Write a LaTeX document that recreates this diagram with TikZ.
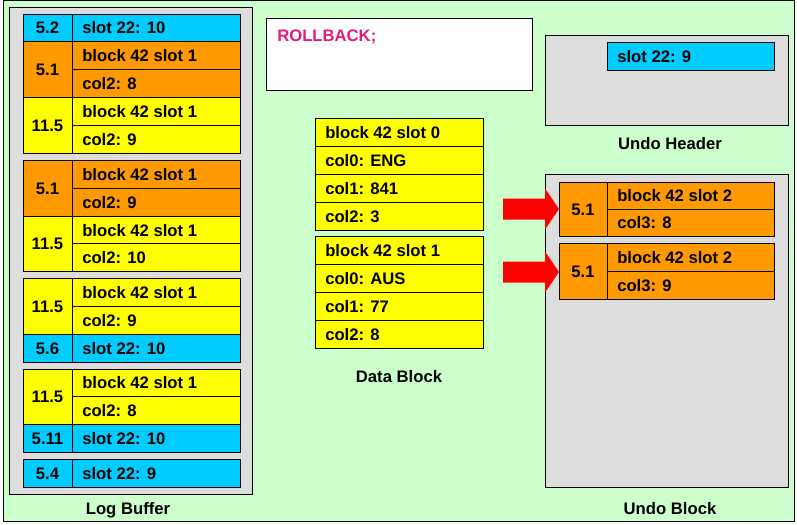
\documentclass[tikz,border=0pt]{standalone}
\usepackage{fontspec}
\setmainfont{Liberation Sans}
\usepackage{xcolor}
\usetikzlibrary{calc}
\definecolor{slotblue}{RGB}{0,204,255}
\definecolor{undoorange}{RGB}{255,153,0}
\definecolor{rowyellow}{RGB}{255,255,0}
\definecolor{panelgray}{RGB}{221,221,221}
\definecolor{sgagreen}{RGB}{204,255,204}
\definecolor{sqlpink}{RGB}{228,27,122}
\tikzstyle{cellline}=[draw=black, line width=0.75pt]
\tikzstyle{celltext}=[inner sep=0pt, text height=9pt, text depth=0pt, font=\fontsize{12.5}{15}\selectfont\bfseries]
% #1 name, #2 left, #3 top, #4 right, #5 bottom, #6 fill, #7 text
\newcommand{\txtcell}[7]{
	\filldraw[cellline, fill=#6] (#2,#3) rectangle (#4,#5);
	\node[celltext, anchor=west] (#1) at ({#2+10},{(#3+#5)/2}) {#7};
}
\newcommand{\numcell}[7]{
	\filldraw[cellline, fill=#6] (#2,#3) rectangle (#4,#5);
	\node[celltext] (#1) at ({(#2+#4)/2},{(#3+#5)/2}) {#7};
}
% #1 name of tip, #2 height of tip
\newcommand{\redarrow}[2]{
	\fill[red] (503,{#2-10.5}) -- (545,{#2-10.5}) -- (545,{#2-20.5}) -- (559,#2)
		-- (545,{#2+20.5}) -- (545,{#2+10.5}) -- (503,{#2+10.5}) -- cycle;
	\coordinate (#1) at (559,#2);
}
\begin{document}
\begin{tikzpicture}[x=0.75pt, y=-0.75pt]
	\useasboundingbox (0,0) rectangle (797,525);
	\filldraw[cellline, fill=sgagreen] (3,0.5) rectangle (794.5,521.5);
%
	\filldraw[cellline, fill=panelgray] (9.5,7.5) rectangle (252,494);
	\filldraw[cellline, fill=white] (266,18) rectangle (532,90);
	\filldraw[cellline, fill=panelgray] (545,35) rectangle (788,125);
	\filldraw[cellline, fill=panelgray] (545,174) rectangle (788,487);
%
	\node[celltext, anchor=west, text=sqlpink] (rollback) at (277,35) {ROLLBACK;};
%
	\numcell{lb1n}{23}{14}{72}{41.8}{slotblue}{5.2}
	\txtcell{lb1a}{72}{14}{240}{41.8}{slotblue}{slot 22: 10}
	\numcell{lb2n}{23}{41.8}{72}{97.4}{undoorange}{5.1}
	\txtcell{lb2a}{72}{41.8}{240}{69.6}{undoorange}{block 42 slot 1}
	\txtcell{lb2b}{72}{69.6}{240}{97.4}{undoorange}{col2: 8}
	\numcell{lb3n}{23}{97.4}{72}{153}{rowyellow}{11.5}
	\txtcell{lb3a}{72}{97.4}{240}{125.2}{rowyellow}{block 42 slot 1}
	\txtcell{lb3b}{72}{125.2}{240}{153}{rowyellow}{col2: 9}
%
	\numcell{lb4n}{23}{160.5}{72}{216.1}{undoorange}{5.1}
	\txtcell{lb4a}{72}{160.5}{240}{188.3}{undoorange}{block 42 slot 1}
	\txtcell{lb4b}{72}{188.3}{240}{216.1}{undoorange}{col2: 9}
	\numcell{lb5n}{23}{216.1}{72}{271.7}{rowyellow}{11.5}
	\txtcell{lb5a}{72}{216.1}{240}{243.9}{rowyellow}{block 42 slot 1}
	\txtcell{lb5b}{72}{243.9}{240}{271.7}{rowyellow}{col2: 10}
%
	\numcell{lb6n}{23}{278.7}{72}{334.3}{rowyellow}{11.5}
	\txtcell{lb6a}{72}{278.7}{240}{306.5}{rowyellow}{block 42 slot 1}
	\txtcell{lb6b}{72}{306.5}{240}{334.3}{rowyellow}{col2: 9}
	\numcell{lb7n}{23}{334.3}{72}{362}{slotblue}{5.6}
	\txtcell{lb7a}{72}{334.3}{240}{362}{slotblue}{slot 22: 10}
%
	\numcell{lb8n}{23}{369}{72}{424.6}{rowyellow}{11.5}
	\txtcell{lb8a}{72}{369}{240}{396.8}{rowyellow}{block 42 slot 1}
	\txtcell{lb8b}{72}{396.8}{240}{424.6}{rowyellow}{col2: 8}
	\numcell{lb9n}{23}{424.6}{72}{452.4}{slotblue}{5.11}
	\txtcell{lb9a}{72}{424.6}{240}{452.4}{slotblue}{slot 22: 10}
%
	\numcell{lb10n}{23}{459}{72}{487}{slotblue}{5.4}
	\txtcell{lb10a}{72}{459}{240}{487}{slotblue}{slot 22: 9}
%
	\txtcell{db0h}{315}{118}{483}{146}{rowyellow}{block 42 slot 0}
	\txtcell{db0a}{315}{146}{483}{174}{rowyellow}{col0: ENG}
	\txtcell{db0b}{315}{174}{483}{202}{rowyellow}{col1: 841}
	\txtcell{db0c}{315}{202}{483}{230}{rowyellow}{col2: 3}
	\txtcell{db1h}{315}{236}{483}{264}{rowyellow}{block 42 slot 1}
	\txtcell{db1a}{315}{264}{483}{292}{rowyellow}{col0: AUS}
	\txtcell{db1b}{315}{292}{483}{320}{rowyellow}{col1: 77}
	\txtcell{db1c}{315}{320}{483}{348}{rowyellow}{col2: 8}
%
	\txtcell{uh}{607}{42}{774}{70}{slotblue}{slot 22: 9}
%
	\numcell{ub1n}{559}{182}{607}{236}{undoorange}{5.1}
	\txtcell{ub1a}{607}{182}{774}{209.3}{undoorange}{block 42 slot 2}
	\txtcell{ub1b}{607}{209.3}{774}{236}{undoorange}{col3: 8}
	\numcell{ub2n}{559}{243.3}{607}{299.3}{undoorange}{5.1}
	\txtcell{ub2a}{607}{243.3}{774}{271.7}{undoorange}{block 42 slot 2}
	\txtcell{ub2b}{607}{271.7}{774}{299.3}{undoorange}{col3: 9}
%
	\redarrow{tip1}{209}
	\redarrow{tip2}{272}
%
	\node[celltext] (logbuf) at (128,508) {Log Buffer};
	\node[celltext] (datablock) at (399,376) {Data Block};
	\node[celltext] (undoheader) at (670,143.5) {Undo Header};
	\node[celltext] (undoblock) at (670,508.5) {Undo Block};
\end{tikzpicture}
\end{document}
